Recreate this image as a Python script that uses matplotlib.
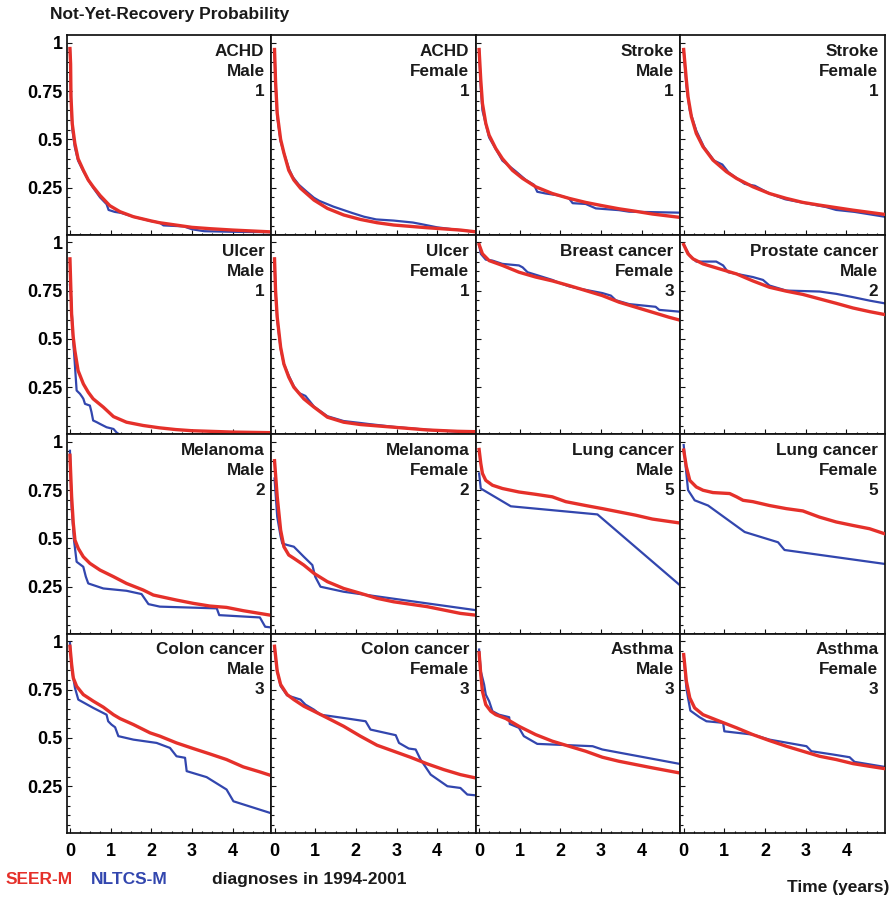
import matplotlib
matplotlib.use("Agg")
import matplotlib.pyplot as plt
from matplotlib.ticker import MultipleLocator, FixedLocator, NullFormatter

plt.rcParams['font.family'] = ['Liberation Sans', 'DejaVu Sans']
plt.rcParams['font.weight'] = 'bold'

# ---------------------------------------------------------------------------
# Not-yet-recovery curves: time since diagnosis (years) and probability
# ---------------------------------------------------------------------------
achd_m_seer_t = [0, 0.016, 0.025, 0.057, 0.12, 0.2, 0.33, 0.45, 0.57, 0.74, 0.98, 1.23, 1.56, 2.0, 2.2, 2.6, 3.0, 3.45, 4.0, 4.9]
achd_m_seer_p = [0.97, 0.89, 0.72, 0.58, 0.48, 0.40, 0.34, 0.29, 0.255, 0.21, 0.157, 0.126, 0.10, 0.078, 0.069, 0.057, 0.045, 0.038, 0.031, 0.022]
achd_m_nltcs_t = [0, 0.016, 0.03, 0.06, 0.12, 0.2, 0.33, 0.45, 0.57, 0.74, 0.9, 0.95, 1.1, 1.25, 1.56, 2.0, 2.2, 2.3, 2.8, 3.0, 3.3, 4.0, 4.9]
achd_m_nltcs_p = [0.97, 0.85, 0.68, 0.55, 0.46, 0.39, 0.335, 0.29, 0.25, 0.2, 0.165, 0.135, 0.125, 0.12, 0.10, 0.077, 0.07, 0.055, 0.05, 0.035, 0.025, 0.022, 0.02]

achd_f_seer_t = [0, 0.025, 0.066, 0.15, 0.23, 0.35, 0.475, 0.64, 0.97, 1.3, 1.7, 2.11, 2.52, 2.93, 3.75, 4.57, 4.94]
achd_f_seer_p = [0.965, 0.8, 0.635, 0.5, 0.43, 0.34, 0.29, 0.247, 0.186, 0.143, 0.109, 0.086, 0.069, 0.057, 0.043, 0.031, 0.022]
achd_f_nltcs_t = [0, 0.025, 0.066, 0.15, 0.23, 0.36, 0.45, 0.6, 0.8, 0.97, 1.1, 1.45, 1.9, 2.2, 2.5, 2.93, 3.4, 3.6, 4.0, 4.5, 4.94]
achd_f_nltcs_p = [0.965, 0.8, 0.62, 0.49, 0.43, 0.345, 0.305, 0.265, 0.228, 0.198, 0.182, 0.152, 0.12, 0.10, 0.086, 0.08, 0.07, 0.062, 0.045, 0.032, 0.022]

stroke_m_seer_t = [0, 0.041, 0.082, 0.164, 0.246, 0.41, 0.574, 0.82, 1.07, 1.39, 1.8, 2.21, 2.62, 3.03, 3.44, 3.85, 4.26, 4.92]
stroke_m_seer_p = [0.965, 0.807, 0.686, 0.583, 0.522, 0.453, 0.40, 0.34, 0.298, 0.255, 0.22, 0.195, 0.174, 0.157, 0.141, 0.128, 0.114, 0.097]
stroke_m_nltcs_t = [0, 0.041, 0.082, 0.246, 0.574, 0.9, 1.15, 1.35, 1.43, 1.64, 1.97, 2.21, 2.3, 2.62, 2.87, 3.44, 3.69, 4.92]
stroke_m_nltcs_p = [0.965, 0.77, 0.65, 0.51, 0.39, 0.335, 0.29, 0.265, 0.229, 0.22, 0.21, 0.195, 0.17, 0.166, 0.143, 0.134, 0.126, 0.121]

stroke_f_seer_t = [0, 0.066, 0.107, 0.19, 0.31, 0.475, 0.72, 1.05, 1.3, 1.7, 2.11, 2.52, 2.93, 3.34, 3.75, 4.16, 4.94]
stroke_f_seer_p = [0.965, 0.807, 0.72, 0.617, 0.531, 0.462, 0.393, 0.333, 0.298, 0.255, 0.22, 0.195, 0.174, 0.16, 0.147, 0.134, 0.112]
stroke_f_nltcs_t = [0, 0.066, 0.15, 0.31, 0.5, 0.75, 0.95, 1.1, 1.5, 1.75, 2.11, 2.5, 3.0, 3.5, 3.75, 4.2, 4.94]
stroke_f_nltcs_p = [0.965, 0.78, 0.65, 0.545, 0.46, 0.39, 0.37, 0.33, 0.27, 0.26, 0.22, 0.19, 0.17, 0.15, 0.135, 0.125, 0.10]

ulcer_m_seer_t = [0, 0.04, 0.08, 0.12, 0.2, 0.33, 0.45, 0.57, 0.82, 1.07, 1.39, 1.8, 2.2, 2.6, 3.0, 4.0, 4.9]
ulcer_m_seer_p = [0.914, 0.63, 0.51, 0.44, 0.336, 0.267, 0.224, 0.19, 0.147, 0.098, 0.069, 0.052, 0.04, 0.031, 0.025, 0.018, 0.015]
ulcer_m_nltcs_t = [0, 0.025, 0.08, 0.12, 0.164, 0.246, 0.3, 0.33, 0.37, 0.49, 0.53, 0.57, 0.66, 0.74, 0.9, 1.07, 1.15, 1.2]
ulcer_m_nltcs_p = [0.78, 0.72, 0.49, 0.37, 0.233, 0.216, 0.2, 0.19, 0.164, 0.155, 0.121, 0.078, 0.069, 0.06, 0.043, 0.034, 0.015, 0.008]

ulcer_f_seer_t = [0, 0.025, 0.066, 0.15, 0.23, 0.35, 0.475, 0.72, 0.97, 1.3, 1.7, 2.11, 2.93, 3.75, 4.5, 4.94]
ulcer_f_seer_p = [0.914, 0.75, 0.612, 0.457, 0.37, 0.302, 0.25, 0.19, 0.147, 0.095, 0.069, 0.057, 0.043, 0.029, 0.022, 0.02]
ulcer_f_nltcs_t = [0, 0.025, 0.066, 0.15, 0.23, 0.35, 0.475, 0.6, 0.76, 0.97, 1.3, 1.7, 2.11, 2.3, 2.93, 3.75, 4.5, 4.94]
ulcer_f_nltcs_p = [0.914, 0.75, 0.6, 0.45, 0.37, 0.31, 0.255, 0.22, 0.205, 0.15, 0.10, 0.075, 0.065, 0.06, 0.045, 0.03, 0.02, 0.015]

breast_f_seer_t = [0, 0.082, 0.246, 0.574, 0.98, 1.39, 1.8, 2.21, 2.62, 3.03, 3.44, 3.85, 4.26, 4.67, 4.92]
breast_f_seer_p = [0.988, 0.94, 0.905, 0.88, 0.845, 0.82, 0.80, 0.776, 0.75, 0.724, 0.69, 0.664, 0.638, 0.612, 0.598]
breast_f_nltcs_t = [0, 0.041, 0.164, 0.328, 0.574, 0.98, 1.07, 1.19, 1.8, 1.97, 2.21, 2.46, 3.03, 3.24, 3.36, 3.69, 4.34, 4.43, 4.92]
breast_f_nltcs_p = [0.988, 0.94, 0.91, 0.905, 0.888, 0.88, 0.87, 0.845, 0.805, 0.79, 0.772, 0.76, 0.737, 0.724, 0.70, 0.68, 0.666, 0.65, 0.641]

prostate_m_seer_t = [0, 0.107, 0.23, 0.475, 0.885, 1.3, 1.7, 2.11, 2.52, 2.93, 3.34, 3.75, 4.16, 4.57, 4.94]
prostate_m_seer_p = [0.988, 0.94, 0.914, 0.888, 0.862, 0.836, 0.80, 0.767, 0.747, 0.73, 0.707, 0.684, 0.66, 0.641, 0.626]
prostate_m_nltcs_t = [0, 0.148, 0.31, 0.8, 0.97, 1.09, 1.7, 1.95, 2.11, 2.52, 3.34, 3.75, 4.16, 4.57, 4.94]
prostate_m_nltcs_p = [0.988, 0.93, 0.9, 0.9, 0.88, 0.845, 0.82, 0.805, 0.776, 0.75, 0.745, 0.733, 0.716, 0.698, 0.684]

melanoma_m_seer_t = [0, 0.041, 0.082, 0.123, 0.205, 0.328, 0.49, 0.74, 1.07, 1.39, 1.8, 2.05, 2.62, 3.03, 3.44, 3.85, 4.26, 4.92]
melanoma_m_seer_p = [0.93, 0.716, 0.578, 0.491, 0.448, 0.405, 0.371, 0.336, 0.302, 0.267, 0.233, 0.207, 0.181, 0.164, 0.15, 0.143, 0.126, 0.103]
melanoma_m_nltcs_t = [0, 0.041, 0.1, 0.164, 0.328, 0.39, 0.45, 0.82, 1.39, 1.76, 1.93, 2.21, 3.61, 3.67, 4.67, 4.8, 4.92]
melanoma_m_nltcs_p = [0.953, 0.664, 0.49, 0.379, 0.353, 0.302, 0.267, 0.241, 0.229, 0.212, 0.16, 0.147, 0.138, 0.103, 0.091, 0.043, 0.04]

melanoma_f_seer_t = [0, 0.066, 0.15, 0.23, 0.35, 0.475, 0.72, 0.97, 1.3, 1.7, 2.11, 2.52, 2.93, 3.75, 4.57, 4.94]
melanoma_f_seer_p = [0.902, 0.716, 0.543, 0.457, 0.414, 0.397, 0.362, 0.319, 0.276, 0.241, 0.216, 0.19, 0.172, 0.147, 0.112, 0.103]
melanoma_f_nltcs_t = [0, 0.066, 0.15, 0.19, 0.31, 0.475, 0.72, 0.93, 1.0, 1.13, 1.7, 4.94]
melanoma_f_nltcs_p = [0.81, 0.612, 0.51, 0.474, 0.466, 0.457, 0.405, 0.362, 0.302, 0.25, 0.224, 0.129]

lung_m_seer_t = [0, 0.041, 0.082, 0.164, 0.328, 0.574, 0.98, 1.39, 1.8, 2.13, 2.62, 3.03, 3.44, 3.85, 4.26, 4.92]
lung_m_seer_p = [0.96, 0.888, 0.836, 0.80, 0.775, 0.758, 0.74, 0.728, 0.715, 0.69, 0.67, 0.654, 0.637, 0.62, 0.60, 0.58]
lung_m_nltcs_t = [0, 0.041, 0.78, 2.91, 4.92]
lung_m_nltcs_p = [0.836, 0.758, 0.666, 0.624, 0.261]

lung_f_seer_t = [0, 0.066, 0.15, 0.31, 0.475, 0.72, 1.13, 1.3, 1.46, 1.7, 2.11, 2.52, 2.93, 3.34, 3.75, 4.16, 4.57, 4.94]
lung_f_seer_p = [0.957, 0.87, 0.80, 0.766, 0.749, 0.737, 0.732, 0.715, 0.697, 0.69, 0.67, 0.654, 0.642, 0.61, 0.585, 0.567, 0.55, 0.524]
lung_f_nltcs_t = [0, 0.066, 0.107, 0.27, 0.6, 1.5, 2.32, 2.48, 4.94]
lung_f_nltcs_p = [0.983, 0.836, 0.75, 0.697, 0.67, 0.533, 0.48, 0.44, 0.368]

colon_m_seer_t = [0, 0.041, 0.082, 0.164, 0.328, 0.574, 0.82, 1.07, 1.23, 1.56, 1.97, 2.21, 2.62, 3.03, 3.44, 3.85, 4.26, 4.67, 4.92]
colon_m_seer_p = [0.974, 0.88, 0.81, 0.767, 0.724, 0.69, 0.659, 0.62, 0.60, 0.569, 0.526, 0.509, 0.474, 0.445, 0.417, 0.388, 0.35, 0.324, 0.307]
colon_m_nltcs_t = [0, 0.041, 0.123, 0.205, 0.574, 0.9, 0.94, 1.02, 1.11, 1.19, 1.56, 2.13, 2.46, 2.62, 2.83, 2.87, 3.36, 3.85, 4.02, 4.92]
colon_m_nltcs_p = [0.991, 0.862, 0.759, 0.698, 0.655, 0.62, 0.586, 0.569, 0.555, 0.509, 0.491, 0.474, 0.448, 0.405, 0.397, 0.328, 0.297, 0.233, 0.172, 0.112]

colon_f_seer_t = [0, 0.066, 0.15, 0.31, 0.475, 0.72, 0.97, 1.3, 1.7, 2.11, 2.52, 2.93, 3.34, 3.75, 4.16, 4.57, 4.94]
colon_f_seer_p = [0.974, 0.845, 0.776, 0.724, 0.698, 0.664, 0.638, 0.603, 0.56, 0.509, 0.462, 0.431, 0.40, 0.366, 0.336, 0.31, 0.293]
colon_f_nltcs_t = [0, 0.066, 0.15, 0.31, 0.64, 0.76, 0.97, 1.13, 1.7, 2.24, 2.36, 2.98, 3.06, 3.3, 3.47, 3.59, 3.84, 4.25, 4.57, 4.74, 4.94]
colon_f_nltcs_p = [0.962, 0.845, 0.768, 0.72, 0.698, 0.672, 0.646, 0.62, 0.603, 0.586, 0.543, 0.514, 0.474, 0.445, 0.44, 0.388, 0.31, 0.25, 0.241, 0.207, 0.203]

asthma_m_seer_t = [0, 0.041, 0.082, 0.164, 0.287, 0.41, 0.656, 0.98, 1.39, 1.8, 2.21, 2.62, 3.03, 3.44, 3.85, 4.26, 4.92]
asthma_m_seer_p = [0.94, 0.828, 0.741, 0.672, 0.638, 0.62, 0.60, 0.56, 0.517, 0.483, 0.457, 0.431, 0.40, 0.379, 0.362, 0.345, 0.319]
asthma_m_nltcs_t = [0, 0.041, 0.123, 0.164, 0.246, 0.328, 0.49, 0.74, 0.754, 0.98, 1.1, 1.43, 2.79, 3.03, 4.92]
asthma_m_nltcs_p = [0.957, 0.845, 0.776, 0.724, 0.69, 0.638, 0.62, 0.607, 0.572, 0.552, 0.509, 0.469, 0.457, 0.44, 0.366]

asthma_f_seer_t = [0, 0.066, 0.15, 0.27, 0.475, 0.885, 1.3, 1.7, 2.11, 2.52, 2.93, 3.34, 3.75, 4.16, 4.57, 4.94]
asthma_f_seer_p = [0.931, 0.793, 0.707, 0.655, 0.62, 0.586, 0.552, 0.517, 0.486, 0.457, 0.431, 0.405, 0.388, 0.367, 0.353, 0.341]
asthma_f_nltcs_t = [0, 0.066, 0.107, 0.164, 0.39, 0.56, 0.97, 1.0, 1.7, 2.11, 3.02, 3.14, 3.67, 4.08, 4.2, 4.94]
asthma_f_nltcs_p = [0.931, 0.759, 0.707, 0.641, 0.607, 0.586, 0.578, 0.534, 0.517, 0.491, 0.457, 0.431, 0.414, 0.40, 0.376, 0.35]

# Panel captions (disease, sex, stage group) in reading order
panel_disease = ["ACHD", "ACHD", "Stroke", "Stroke",
                 "Ulcer", "Ulcer", "Breast cancer", "Prostate cancer",
                 "Melanoma", "Melanoma", "Lung cancer", "Lung cancer",
                 "Colon cancer", "Colon cancer", "Asthma", "Asthma"]
panel_sex = ["Male", "Female", "Male", "Female",
             "Male", "Female", "Female", "Male",
             "Male", "Female", "Male", "Female",
             "Male", "Female", "Male", "Female"]
panel_group = ["1", "1", "1", "1",
               "1", "1", "3", "2",
               "2", "2", "5", "5",
               "3", "3", "3", "3"]

seer_curves = [
    (achd_m_seer_t, achd_m_seer_p), (achd_f_seer_t, achd_f_seer_p),
    (stroke_m_seer_t, stroke_m_seer_p), (stroke_f_seer_t, stroke_f_seer_p),
    (ulcer_m_seer_t, ulcer_m_seer_p), (ulcer_f_seer_t, ulcer_f_seer_p),
    (breast_f_seer_t, breast_f_seer_p), (prostate_m_seer_t, prostate_m_seer_p),
    (melanoma_m_seer_t, melanoma_m_seer_p), (melanoma_f_seer_t, melanoma_f_seer_p),
    (lung_m_seer_t, lung_m_seer_p), (lung_f_seer_t, lung_f_seer_p),
    (colon_m_seer_t, colon_m_seer_p), (colon_f_seer_t, colon_f_seer_p),
    (asthma_m_seer_t, asthma_m_seer_p), (asthma_f_seer_t, asthma_f_seer_p),
]
nltcs_curves = [
    (achd_m_nltcs_t, achd_m_nltcs_p), (achd_f_nltcs_t, achd_f_nltcs_p),
    (stroke_m_nltcs_t, stroke_m_nltcs_p), (stroke_f_nltcs_t, stroke_f_nltcs_p),
    (ulcer_m_nltcs_t, ulcer_m_nltcs_p), (ulcer_f_nltcs_t, ulcer_f_nltcs_p),
    (breast_f_nltcs_t, breast_f_nltcs_p), (prostate_m_nltcs_t, prostate_m_nltcs_p),
    (melanoma_m_nltcs_t, melanoma_m_nltcs_p), (melanoma_f_nltcs_t, melanoma_f_nltcs_p),
    (lung_m_nltcs_t, lung_m_nltcs_p), (lung_f_nltcs_t, lung_f_nltcs_p),
    (colon_m_nltcs_t, colon_m_nltcs_p), (colon_f_nltcs_t, colon_f_nltcs_p),
    (asthma_m_nltcs_t, asthma_m_nltcs_p), (asthma_f_nltcs_t, asthma_f_nltcs_p),
]

y_ticks = [0.25, 0.5, 0.75, 1.0]
y_tick_labels = ["0.25", "0.5", "0.75", "1"]
x_ticks = [0, 1, 2, 3, 4]
x_tick_labels = ["0", "1", "2", "3", "4"]

RED = "#e5302a"
BLUE = "#3246ae"

W, H = 896, 899
fig = plt.figure(figsize=(W / 100, H / 100), dpi=100)

grid_left, grid_right = 66.7, 885.0
grid_top, grid_bottom = 35.0, 833.0
cell_w = (grid_right - grid_left) / 4
cell_h = (grid_bottom - grid_top) / 4

for i in range(16):
    r, c = divmod(i, 4)
    x0 = grid_left + c * cell_w
    y0 = grid_top + (r + 1) * cell_h
    ax = fig.add_axes([x0 / W, 1 - y0 / H, cell_w / W, cell_h / H])

    tb, pb = nltcs_curves[i]
    ax.plot(tb, pb, color=BLUE, lw=1.6, zorder=2)
    tr, pr = seer_curves[i]
    ax.plot(tr, pr, color=RED, lw=2.4, zorder=3)

    ax.set_xlim(-0.08, 4.95)
    ax.set_ylim(0.008, 1.04)

    for s in ax.spines.values():
        s.set_linewidth(1.25)
        s.set_color("#111111")

    ax.xaxis.set_major_locator(FixedLocator(x_ticks))
    ax.xaxis.set_minor_locator(MultipleLocator(0.25))
    ax.yaxis.set_major_locator(FixedLocator(y_ticks))
    ax.yaxis.set_minor_locator(MultipleLocator(0.05))
    ax.tick_params(which="both", direction="in", top=False, right=False,
                   width=0.8, color="#111111")
    ax.tick_params(which="major", length=3.4)
    ax.tick_params(which="minor", length=1.8)
    ax.tick_params(axis="y", which="major", pad=3.0, labelsize=13)
    ax.tick_params(axis="x", which="major", pad=7.5, labelsize=13)

    if c == 0:
        ax.set_yticklabels(y_tick_labels, fontweight="bold")
    else:
        ax.yaxis.set_major_formatter(NullFormatter())
    if r == 3:
        ax.set_xticklabels(x_tick_labels, fontweight="bold")
    else:
        ax.xaxis.set_major_formatter(NullFormatter())

    # three-line caption in the upper-right corner
    caption = [panel_disease[i], panel_sex[i], panel_group[i]]
    for k, line in enumerate(caption):
        yb = 21 + 20 * k
        ax.text(1 - 6.7 / cell_w, 1 - yb / cell_h, line, transform=ax.transAxes,
                ha="right", va="baseline", fontsize=12.3, fontweight="bold",
                color="#1a1a1a", zorder=5)

fig.text(50 / W, 1 - 19 / H, "Not-Yet-Recovery Probability", ha="left",
         va="baseline", fontsize=12.5, fontweight="bold", color="#1a1a1a")
fig.text(6 / W, 1 - 884 / H, "SEER-M", ha="left", va="baseline",
         fontsize=12.5, fontweight="bold", color=RED)
fig.text(91 / W, 1 - 884 / H, "NLTCS-M", ha="left", va="baseline",
         fontsize=12.5, fontweight="bold", color=BLUE)
fig.text(212 / W, 1 - 884 / H, "diagnoses in 1994-2001", ha="left",
         va="baseline", fontsize=12.5, fontweight="bold", color="#1a1a1a")
fig.text(889 / W, 1 - 892 / H, "Time (years)", ha="right", va="baseline",
         fontsize=12.5, fontweight="bold", color="#1a1a1a")

fig.savefig("out.png", dpi=100, facecolor="white")
